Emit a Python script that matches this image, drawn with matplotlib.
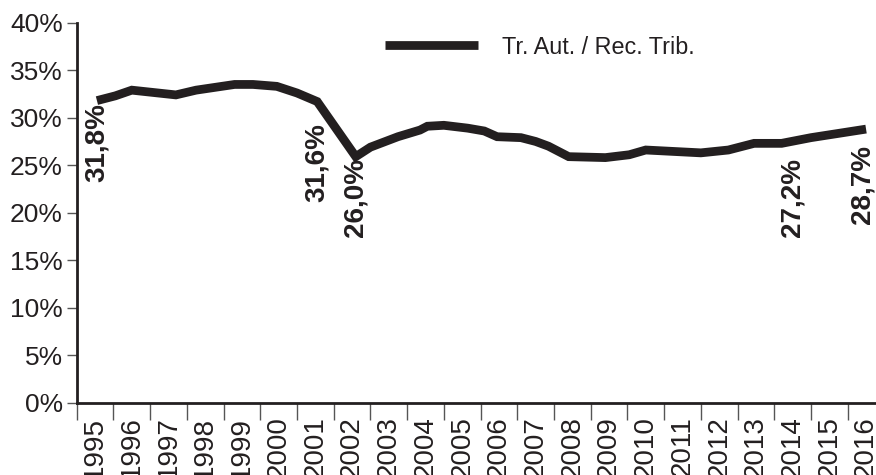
import matplotlib
matplotlib.use("Agg")
import matplotlib.pyplot as plt

# ---------------------------------------------------------------------------
# Data
# ---------------------------------------------------------------------------
years = list(range(1995, 2017))

# the series has more vertices than years, so x is a fractional year
series_x = [1995.05, 1995.55, 1996.0, 1997.2, 1997.75, 1998.8, 1999.3, 1999.95,
            2000.5, 2001.05, 2002.1, 2002.5, 2003.25, 2003.85, 2004.05, 2004.5,
            2005.15, 2005.6, 2005.95, 2006.6, 2007.0, 2007.35, 2007.9, 2008.9,
            2009.55, 2010.0, 2011.5, 2012.25, 2012.95, 2013.7, 2014.5, 2016.0]
series_y = [31.8, 32.3, 32.9, 32.4, 32.9, 33.5, 33.5, 33.3,
            32.6, 31.7, 25.9, 26.9, 28.0, 28.7, 29.1, 29.2,
            28.9, 28.6, 28.0, 27.9, 27.5, 27.0, 25.9, 25.8,
            26.1, 26.6, 26.3, 26.6, 27.3, 27.3, 27.9, 28.8]
series_name = "Tr. Aut. / Rec. Trib."

label_years = [1995.05, 2001.05, 2002.1, 2014.0, 2015.9]
label_values = [31.8, 31.6, 26.0, 27.2, 28.7]
label_drop = [-2, -15, -2, -10, -11]   # points below the value

y_ticks = [0, 5, 10, 15, 20, 25, 30, 35, 40]

INK = "#231f20"
plt.rcParams["font.family"] = ["Liberation Sans", "DejaVu Sans"]

fig = plt.figure(figsize=(8.76, 4.75), dpi=100)
ax = fig.add_axes([0.0876, 0.1522, 0.922, 0.80])

ax.plot(series_x, series_y, color=INK, linewidth=6.3,
        solid_joinstyle="miter", solid_capstyle="butt", label=series_name)

for x, v, dy in zip(label_years, label_values, label_drop):
    ax.annotate(f"{v:.1f}%".replace(".", ","), xy=(x, v), xytext=(0, dy),
                textcoords="offset points", rotation=90, ha="center", va="top",
                fontsize=20, fontweight="bold", color=INK)

ax.set_xlim(1994.5, 2016.5)
ax.set_ylim(0, 40)

# y axis
ax.set_yticks(y_ticks)
ax.set_yticklabels([f"{t}%" for t in y_ticks])
ax.tick_params(axis="y", length=7, width=1, color="#555555", pad=3,
               labelsize=19, labelcolor=INK)

# x axis: ticks between the years, labels centred on the years
ax.set_xticks([y - 0.5 for y in years] + [years[-1] + 0.5])
ax.set_xticklabels([])
ax.set_xticks(years, minor=True)
ax.set_xticklabels([str(y) for y in years], minor=True, rotation=90,
                   va="top", ha="center")
ax.tick_params(axis="x", which="major", length=12, width=1, color="#555555")
ax.tick_params(axis="x", which="minor", length=0, pad=10,
               labelsize=20, labelcolor=INK)

for side in ("top", "right"):
    ax.spines[side].set_visible(False)
for side in ("left", "bottom"):
    ax.spines[side].set_color(INK)
    ax.spines[side].set_linewidth(2)

leg = ax.legend(loc="center left", bbox_to_anchor=(385 / 876, 1 - 47 / 475),
                bbox_transform=fig.transFigure, frameon=False, borderpad=0,
                borderaxespad=0, handlelength=4.0, handletextpad=1.0,
                fontsize=16.8)
for t in leg.get_texts():
    t.set_color(INK)

fig.savefig("out.png", dpi=100)
